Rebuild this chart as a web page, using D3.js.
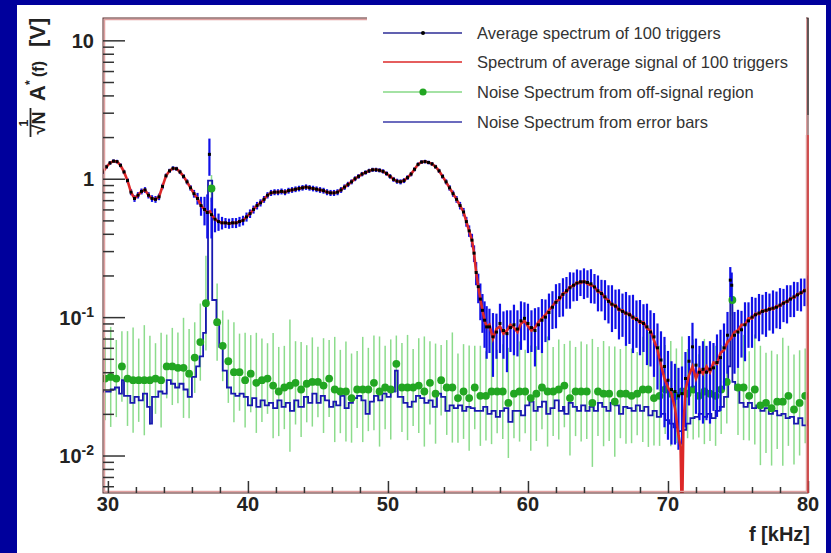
<!DOCTYPE html>
<html>
<head>
<meta charset="utf-8">
<script src="https://cdn.jsdelivr.net/npm/d3@7"></script>
<style>
  body { margin: 0; background: #00009c; }
  svg text { font-family: "Liberation Sans", Arial, Helvetica, sans-serif; }
</style>
</head>
<body>
<div id="chart"></div>
<script>
const W = 831;
const H = 553;
const frame = {left: 103, right: 808, top: 18, bottom: 493};

// x-axis: frequency in kHz
const xDomain = [29.65, 80];
const yDomain = [0.00536, 14.5];
const xMajor = [30, 40, 50, 60, 70, 80];
const yMajor = [0.01, 0.1, 1, 10];
const yMajorLabels = [['10', '-2'], ['10', '-1'], ['1', ''], ['10', '']];

const legendLabels = [
  'Average spectrum of 100 triggers',
  'Spectrum of average signal of 100 triggers',
  'Noise Spectrum from off-signal region',
  'Noise Spectrum from error bars'
];

// Average spectrum of 100 triggers: [f (kHz), A, error]
const avgSpectrum = [
  [29.65,1.12,.04],[29.9,1.22,.04],[30.15,1.30,.04],[30.4,1.34,.04],[30.65,1.33,.04],[30.9,1.25,.04],
  [31.15,1.12,.04],[31.4,0.97,.04],[31.65,0.80,.04],[31.9,0.72,.04],[32.15,0.76,.04],[32.4,0.81,.04],
  [32.65,0.83,.04],[32.9,0.76,.04],[33.15,0.72,.04],[33.4,0.71,.04],[33.65,0.74,.04],[33.9,0.88,.04],
  [34.15,1.05,.04],[34.4,1.14,.04],[34.65,1.19,.04],[34.9,1.18,.04],[35.15,1.12,.04],[35.4,1.04,.04],
  [35.65,0.95,.04],[35.9,0.86,.04],[36.15,0.78,.05],[36.4,0.72,.07],[36.65,0.64,.1],[36.9,0.6,.14],
  [37.1,0.57,.2],[37.25,1.5,.45],[37.4,0.55,.18],[37.65,0.51,.1],[37.9,0.49,.07],[38.15,0.48,.05],
  [38.4,0.48,.04],[38.65,0.475,.04],[38.9,0.48,.04],[39.15,0.48,.04],[39.4,0.49,.04],[39.65,0.5,.04],
  [39.9,0.53,.04],[40.15,0.56,.04],[40.4,0.6,.04],[40.65,0.64,.04],[40.9,0.67,.04],[41.15,0.71,.04],
  [41.4,0.76,.04],[41.65,0.79,.04],[41.9,0.8,.04],[42.15,0.8,.04],[42.4,0.81,.04],[42.65,0.8,.04],
  [42.9,0.82,.04],[43.15,0.83,.04],[43.4,0.84,.04],[43.65,0.85,.04],[43.9,0.86,.04],[44.15,0.87,.04],
  [44.4,0.86,.04],[44.65,0.85,.04],[44.9,0.84,.04],[45.15,0.83,.04],[45.4,0.82,.04],[45.65,0.8,.04],
  [45.9,0.79,.04],[46.15,0.79,.04],[46.4,0.8,.04],[46.65,0.83,.04],[46.9,0.87,.04],[47.15,0.91,.04],
  [47.4,0.95,.04],[47.65,1.0,.04],[47.9,1.04,.04],[48.15,1.08,.04],[48.4,1.11,.04],[48.65,1.14,.04],
  [48.9,1.16,.04],[49.15,1.16,.04],[49.4,1.15,.04],[49.65,1.13,.04],[49.9,1.09,.04],[50.15,1.04,.04],
  [50.4,0.99,.04],[50.65,0.96,.04],[50.9,0.95,.04],[51.15,0.97,.04],[51.4,1.02,.04],[51.65,1.08,.04],
  [51.9,1.17,.04],[52.15,1.27,.04],[52.4,1.32,.04],[52.65,1.33,.04],[52.9,1.31,.04],[53.15,1.28,.04],
  [53.4,1.22,.04],[53.65,1.14,.04],[53.9,1.04,.04],[54.15,0.95,.04],[54.4,0.86,.04],[54.65,0.78,.04],
  [54.9,0.71,.04],[55.15,0.64,.04],[55.4,0.575,.04],[55.6,0.49,.04],[55.8,0.42,.04],[56.0,0.36,.04],
  [56.15,0.29,.04],[56.3,0.21,.04],[56.45,0.166,.04],[56.6,0.135,.04],[56.75,0.112,.035],[56.9,0.095,.035],
  [57.05,0.085,.035],[57.25,0.085,.03],[57.5,0.072,.035],[57.75,0.078,.028],[58.0,0.09,.035],[58.25,0.08,.03],
  [58.5,0.076,.036],[58.75,0.084,.028],[59.0,0.088,.035],[59.25,0.082,.03],[59.5,0.094,.036],[59.75,0.098,.03],
  [60.0,0.09,.035],[60.25,0.084,.028],[60.5,0.08,.036],[60.75,0.088,.03],[61.0,0.095,.04],[61.25,0.1,.034],
  [61.5,0.108,.04],[61.75,0.118,.036],[62.0,0.128,.045],[62.25,0.138,.038],[62.5,0.146,.045],[62.75,0.155,.04],
  [63.0,0.163,.048],[63.25,0.17,.04],[63.5,0.176,.045],[63.75,0.18,.038],[64.0,0.18,.045],[64.25,0.178,.04],
  [64.5,0.174,.048],[64.75,0.165,.04],[65.0,0.155,.045],[65.25,0.148,.038],[65.5,0.14,.045],[65.75,0.13,.04],
  [66.0,0.124,.046],[66.25,0.12,.038],[66.5,0.114,.045],[66.75,0.11,.038],[67.0,0.107,.045],[67.25,0.104,.04],
  [67.5,0.1,.045],[67.75,0.096,.036],[68.0,0.093,.04],[68.25,0.09,.034],[68.5,0.085,.04],[68.75,0.078,.034],
  [69.0,0.072,.035],[69.25,0.06,.03],[69.5,0.049,.03],[69.75,0.044,.028],[70.0,0.035,.022],[70.25,0.03,.018],
  [70.5,0.029,.017],[70.75,0.027,.016],[71.0,0.028,.016],[71.25,0.036,.02],[71.5,0.048,.025],[71.75,0.061,.03],
  [72.0,0.045,.025],[72.25,0.04,.022],[72.5,0.042,.025],[72.75,0.04,.022],[73.0,0.042,.025],[73.25,0.043,.022],
  [73.5,0.047,.028],[73.75,0.051,.03],[74.0,0.06,.03],[74.25,0.074,.035],[74.45,0.185,.045],[74.55,0.17,.04],
  [74.75,0.074,.035],[75.0,0.078,.035],[75.25,0.081,.03],[75.5,0.088,.04],[75.75,0.094,.034],[76.0,0.1,.04],
  [76.25,0.104,.034],[76.5,0.107,.04],[76.75,0.11,.035],[77.0,0.112,.04],[77.25,0.114,.034],[77.5,0.116,.04],
  [77.75,0.118,.035],[78.0,0.122,.04],[78.25,0.126,.034],[78.5,0.13,.04],[78.75,0.135,.035],[79.0,0.14,.04],
  [79.25,0.145,.034],[79.5,0.15,.04],[79.75,0.155,.035],[80.0,0.16,.04]
];

// Spectrum of average signal of 100 triggers: [f, A]
const avgSignal = [
  [29.65,1.12],[29.9,1.22],[30.15,1.30],[30.4,1.34],[30.65,1.33],[30.9,1.25],[31.15,1.12],[31.4,0.97],
  [31.65,0.80],[31.9,0.72],[32.15,0.76],[32.4,0.81],[32.65,0.83],[32.9,0.76],[33.15,0.72],[33.4,0.71],
  [33.65,0.74],[33.9,0.88],[34.15,1.05],[34.4,1.14],[34.65,1.19],[34.9,1.18],[35.15,1.12],[35.4,1.04],
  [35.65,0.95],[35.9,0.86],[36.15,0.78],[36.4,0.72],[36.65,0.64],[36.9,0.6],[37.1,0.57],[37.3,0.58],
  [37.4,0.55],[37.65,0.51],[37.9,0.49],[38.15,0.48],[38.4,0.48],[38.65,0.475],[38.9,0.48],[39.15,0.48],
  [39.4,0.49],[39.65,0.5],[39.9,0.53],[40.15,0.56],[40.4,0.6],[40.65,0.64],[40.9,0.67],[41.15,0.71],
  [41.4,0.76],[41.65,0.79],[41.9,0.8],[42.15,0.8],[42.4,0.81],[42.65,0.8],[42.9,0.82],[43.15,0.83],
  [43.4,0.84],[43.65,0.85],[43.9,0.86],[44.15,0.87],[44.4,0.86],[44.65,0.85],[44.9,0.84],[45.15,0.83],
  [45.4,0.82],[45.65,0.8],[45.9,0.79],[46.15,0.79],[46.4,0.8],[46.65,0.83],[46.9,0.87],[47.15,0.91],
  [47.4,0.95],[47.65,1.0],[47.9,1.04],[48.15,1.08],[48.4,1.11],[48.65,1.14],[48.9,1.16],[49.15,1.16],
  [49.4,1.15],[49.65,1.13],[49.9,1.09],[50.15,1.04],[50.4,0.99],[50.65,0.96],[50.9,0.95],[51.15,0.97],
  [51.4,1.02],[51.65,1.08],[51.9,1.17],[52.15,1.27],[52.4,1.32],[52.65,1.33],[52.9,1.31],[53.15,1.28],
  [53.4,1.22],[53.65,1.14],[53.9,1.04],[54.15,0.95],[54.4,0.86],[54.65,0.78],[54.9,0.71],[55.15,0.64],
  [55.4,0.575],[55.6,0.49],[55.8,0.42],[56.0,0.36],[56.15,0.29],[56.3,0.21],[56.45,0.166],[56.6,0.135],
  [56.75,0.112],[56.9,0.095],[57.05,0.085],[57.25,0.088],[57.5,0.07],[57.75,0.082],[58.0,0.086],[58.25,0.076],
  [58.5,0.08],[58.75,0.088],[59.0,0.084],[59.25,0.078],[59.5,0.09],[59.75,0.094],[60.0,0.086],[60.25,0.08],
  [60.5,0.084],[60.75,0.092],[61.0,0.098],[61.25,0.104],[61.5,0.112],[61.75,0.12],[62.0,0.13],[62.25,0.134],
  [62.5,0.148],[62.75,0.152],[63.0,0.166],[63.25,0.168],[63.5,0.178],[63.75,0.176],[64.0,0.182],[64.25,0.174],
  [64.5,0.17],[64.75,0.166],[65.0,0.152],[65.25,0.15],[65.5,0.138],[65.75,0.132],[66.0,0.122],[66.25,0.122],
  [66.5,0.112],[66.75,0.112],[67.0,0.105],[67.25,0.106],[67.5,0.098],[67.75,0.098],[68.0,0.091],[68.25,0.092],
  [68.5,0.083],[68.75,0.08],[69.0,0.068],[69.25,0.058],[69.5,0.045],[69.75,0.036],[70.0,0.031],[70.25,0.028],
  [70.5,0.022],[70.75,0.014],[70.9,0.0115],[71.0,0.003],[71.1,0.016],[71.25,0.03],[71.5,0.038],[71.75,0.044],
  [72.0,0.036],[72.25,0.042],[72.5,0.039],[72.75,0.044],[73.0,0.04],[73.25,0.047],[73.5,0.046],[73.75,0.055],
  [74.0,0.058],[74.25,0.066],[74.5,0.07],[74.75,0.078],[75.0,0.08],[75.25,0.088],[75.5,0.088],[75.75,0.098],
  [76.0,0.098],[76.25,0.106],[76.5,0.105],[76.75,0.112],[77.0,0.11],[77.25,0.116],[77.5,0.114],[77.75,0.12],
  [78.0,0.12],[78.25,0.128],[78.5,0.128],[78.75,0.137],[79.0,0.138],[79.25,0.147],[79.5,0.148],[79.75,0.157],
  [80.0,0.158]
];

// Noise spectrum from off-signal region: [f, A, spread factor of the error bar]
const offSignalNoise = [
  [29.8,0.036,2.0],[30.2,0.037,2.3],[30.6,0.036,1.9],[31.0,0.044,1.8],[31.4,0.036,2.2],[31.8,0.035,2.4],
  [32.2,0.035,2.0],[32.6,0.035,2.5],[33.0,0.035,2.1],[33.4,0.036,1.8],[33.8,0.035,2.2],[34.2,0.044,1.7],
  [34.6,0.044,1.9],[35.0,0.043,1.8],[35.4,0.043,2.3],[35.8,0.039,2.1],[36.2,0.051,1.8],[36.6,0.066,1.9],
  [37.0,0.126,2.2],[37.4,0.85,1.25],[37.8,0.092,1.9],[38.2,0.062,1.8],[38.6,0.048,2.0],[39.0,0.040,2.3],
  [39.4,0.040,1.9],[39.8,0.035,2.2],[40.2,0.039,1.9],[40.6,0.0335,2.3],[41.0,0.035,2.0],[41.4,0.036,1.8],
  [41.8,0.032,2.4],[42.2,0.029,2.1],[42.6,0.031,2.0],[43.0,0.032,3.0],[43.4,0.0335,2.0],[43.8,0.030,2.2],
  [44.2,0.033,1.9],[44.6,0.034,2.1],[45.0,0.034,1.8],[45.4,0.032,2.2],[45.8,0.036,1.9],[46.2,0.030,2.4],
  [46.6,0.029,2.0],[47.0,0.029,2.3],[47.4,0.026,2.1],[47.8,0.030,1.9],[48.2,0.030,2.4],[48.6,0.030,2.0],
  [49.0,0.0335,2.2],[49.4,0.029,2.5],[49.8,0.031,2.0],[50.2,0.030,2.3],[50.6,0.046,1.6],[51.0,0.031,2.1],
  [51.4,0.031,2.4],[51.8,0.031,1.9],[52.2,0.032,2.2],[52.6,0.029,2.5],[53.0,0.0335,2.0],[53.4,0.028,2.3],
  [53.8,0.035,1.8],[54.2,0.031,2.2],[54.6,0.031,2.5],[55.0,0.026,2.1],[55.4,0.029,2.2],[55.8,0.026,2.4],
  [56.2,0.031,2.0],[56.6,0.027,2.3],[57.0,0.027,2.1],[57.4,0.029,2.4],[57.8,0.029,2.0],[58.2,0.029,2.2],
  [58.6,0.024,2.5],[59.0,0.028,2.1],[59.4,0.029,2.3],[59.8,0.029,2.0],[60.2,0.026,2.4],[60.6,0.028,2.2],
  [61.0,0.031,2.0],[61.4,0.029,2.5],[61.8,0.029,2.1],[62.2,0.030,2.3],[62.6,0.032,2.0],[63.0,0.026,2.6],
  [63.4,0.029,2.1],[63.8,0.029,2.3],[64.2,0.029,2.2],[64.6,0.024,2.9],[65.0,0.029,2.1],[65.4,0.028,2.4],
  [65.8,0.028,2.2],[66.2,0.0245,2.5],[66.6,0.028,2.1],[67.0,0.028,2.3],[67.4,0.027,2.2],[67.8,0.028,2.0],
  [68.2,0.030,2.4],[68.6,0.030,2.6],[69.0,0.026,2.2],[69.4,0.027,2.3],[69.8,0.030,2.1],[70.2,0.028,2.4],
  [70.6,0.027,2.2],[71.0,0.029,2.5],[71.4,0.028,2.1],[71.8,0.030,2.3],[72.2,0.027,2.0],[72.6,0.029,2.4],
  [73.0,0.028,2.2],[73.4,0.027,2.3],[73.8,0.030,2.1],[74.2,0.034,2.0],[74.6,0.133,1.3],[75.0,0.031,2.2],
  [75.4,0.031,2.4],[75.8,0.027,2.1],[76.2,0.030,2.5],[76.6,0.023,2.7],[77.0,0.024,2.3],[77.4,0.022,2.6],
  [77.8,0.0245,2.2],[78.2,0.0245,2.9],[78.6,0.027,2.3],[79.0,0.0215,2.5],[79.4,0.024,2.4],[79.8,0.027,2.2]
];

// Noise spectrum from error bars: [f, A], drawn as steps
const errorBarNoise = [
  [29.65,0.029],[30.0,0.029],[30.2,0.030],[30.5,0.031],[30.8,0.028],[31.0,0.035],[31.15,0.027],[31.3,0.027],
  [31.6,0.024],[31.9,0.0265],[32.2,0.025],[32.5,0.028],[32.8,0.0225],[33.0,0.017],[33.15,0.0265],[33.3,0.0265],
  [33.6,0.029],[33.9,0.028],[34.2,0.035],[34.5,0.033],[34.8,0.031],[35.1,0.033],[35.4,0.030],[35.7,0.0265],
  [36.0,0.037],[36.3,0.044],[36.55,0.052],[36.8,0.077],[37.0,0.13],[37.15,0.97],[37.45,0.133],[37.75,0.09],
  [37.95,0.061],[38.2,0.041],[38.5,0.031],[38.8,0.028],[39.1,0.027],[39.4,0.028],[39.7,0.0265],[40.0,0.023],
  [40.3,0.026],[40.6,0.0225],[40.9,0.025],[41.2,0.023],[41.5,0.024],[41.8,0.022],[42.1,0.025],[42.4,0.0225],
  [42.7,0.024],[43.0,0.021],[43.3,0.025],[43.6,0.0225],[44.0,0.0265],[44.3,0.024],[44.6,0.028],[44.9,0.024],
  [45.2,0.027],[45.5,0.025],[45.8,0.0225],[46.1,0.0245],[46.3,0.023],[46.6,0.027],[46.9,0.022],[47.2,0.024],
  [47.5,0.026],[47.8,0.027],[48.1,0.025],[48.4,0.020],[48.7,0.0245],[49.0,0.027],[49.3,0.025],[49.6,0.028],
  [49.9,0.0265],[50.2,0.029],[50.5,0.041],[50.7,0.0265],[51.1,0.024],[51.4,0.0225],[51.7,0.0245],[52.0,0.027],
  [52.3,0.026],[52.6,0.024],[52.9,0.025],[53.2,0.0225],[53.5,0.028],[53.8,0.0265],[54.1,0.021],[54.4,0.023],
  [54.7,0.022],[55.0,0.023],[55.3,0.021],[55.6,0.0225],[55.9,0.022],[56.2,0.021],[56.5,0.021],[56.8,0.0225],
  [57.1,0.020],[57.4,0.021],[57.7,0.019],[58.0,0.021],[58.3,0.022],[58.6,0.0175],[58.9,0.021],[59.2,0.021],
  [59.5,0.0195],[59.8,0.023],[60.1,0.0245],[60.4,0.021],[60.7,0.0225],[61.0,0.0245],[61.3,0.020],[61.6,0.022],
  [61.9,0.025],[62.2,0.021],[62.5,0.0225],[62.6,0.020],[62.9,0.024],[63.2,0.0225],[63.5,0.021],[63.8,0.023],
  [64.1,0.021],[64.4,0.0225],[64.7,0.021],[65.0,0.024],[65.3,0.0225],[65.6,0.021],[65.9,0.024],[66.2,0.023],
  [66.5,0.020],[66.8,0.0225],[67.1,0.022],[67.4,0.021],[67.7,0.023],[68.0,0.021],[68.3,0.0225],[68.6,0.0195],
  [68.9,0.021],[69.2,0.019],[69.5,0.020],[69.8,0.018],[70.1,0.017],[70.4,0.016],[70.7,0.015],[71.0,0.0153],
  [71.3,0.017],[71.6,0.0186],[71.9,0.019],[72.2,0.020],[72.5,0.019],[72.8,0.020],[73.1,0.0186],[73.4,0.021],
  [73.7,0.0225],[74.0,0.0265],[74.3,0.044],[74.45,0.14],[74.6,0.034],[74.8,0.030],[75.1,0.024],[75.4,0.0225],
  [75.7,0.024],[76.0,0.022],[76.3,0.023],[76.6,0.021],[76.9,0.022],[77.2,0.020],[77.5,0.021],[77.8,0.0195],
  [78.1,0.020],[78.4,0.0186],[78.7,0.019],[79.0,0.017],[79.3,0.0186],[79.6,0.0165],[80.0,0.018]
];

const colors = {
  avgErr: '#1010e8',
  avgMarker: '#000000',
  signal: '#dc2828',
  green: '#22a622',
  greenErr: '#8cdc8c',
  noise: '#1818b0',
  frameDark: '#5a2828',
  framePink: '#e0a0a0'
};

const svg = d3.select('#chart')
  .append('svg')
  .attr('width', W)
  .attr('height', H);

// blue slide background and white pad
svg.append('rect').attr('width', W).attr('height', H).attr('fill', '#00009c');
svg.append('rect')
  .attr('x', 17).attr('y', 5)
  .attr('width', 809).attr('height', H - 5)
  .attr('fill', '#ffffff');

const x = d3.scaleLinear().domain(xDomain).range([frame.left, frame.right]);
const y = d3.scaleLog().domain(yDomain).range([frame.bottom, frame.top]);

svg.append('clipPath').attr('id', 'plot-clip')
  .append('rect')
  .attr('x', frame.left).attr('y', frame.top)
  .attr('width', frame.right - frame.left)
  .attr('height', frame.bottom - frame.top);

const plot = svg.append('g').attr('clip-path', 'url(#plot-clip)');

// green error bars (off-signal noise)
plot.selectAll('.green-err')
  .data(offSignalNoise)
  .enter()
  .append('line')
  .attr('class', 'green-err')
  .attr('x1', d => x(d[0])).attr('x2', d => x(d[0]))
  .attr('y1', d => y(d[1] / d[2]))
  .attr('y2', d => y(d[1] * d[2]))
  .attr('stroke', colors.greenErr)
  .attr('stroke-width', 1.5);

// noise spectrum from error bars, step line
const stepLine = d3.line()
  .x(d => x(d[0]))
  .y(d => y(d[1]))
  .curve(d3.curveStepAfter);

plot.append('path')
  .datum(errorBarNoise)
  .attr('d', stepLine)
  .attr('fill', 'none')
  .attr('stroke', colors.noise)
  .attr('stroke-width', 1.8);

// green markers
plot.selectAll('.green-pt')
  .data(offSignalNoise)
  .enter()
  .append('circle')
  .attr('class', 'green-pt')
  .attr('cx', d => x(d[0]))
  .attr('cy', d => y(d[1]))
  .attr('r', 3.9)
  .attr('fill', colors.green);

// error bars of the average spectrum
plot.selectAll('.avg-err')
  .data(avgSpectrum)
  .enter()
  .append('line')
  .attr('class', 'avg-err')
  .attr('x1', d => x(d[0])).attr('x2', d => x(d[0]))
  .attr('y1', d => y(Math.max(d[1] - d[2], 1e-4)))
  .attr('y2', d => y(d[1] + d[2]))
  .attr('stroke', colors.avgErr)
  .attr('stroke-width', 2.2);

// spectrum of average signal
const line = d3.line()
  .x(d => x(d[0]))
  .y(d => y(d[1]));

plot.append('path')
  .datum(avgSignal)
  .attr('d', line)
  .attr('fill', 'none')
  .attr('stroke', colors.signal)
  .attr('stroke-width', 2.6);

// black markers of the average spectrum
plot.selectAll('.avg-pt')
  .data(avgSpectrum)
  .enter()
  .append('rect')
  .attr('class', 'avg-pt')
  .attr('x', d => x(d[0]) - 1.5)
  .attr('y', d => y(d[1]) - 1.5)
  .attr('width', 3)
  .attr('height', 3)
  .attr('fill', colors.avgMarker);

// frame
svg.append('rect')
  .attr('x', frame.left + 1.5).attr('y', frame.top + 1.5)
  .attr('width', frame.right - frame.left - 3)
  .attr('height', frame.bottom - frame.top - 3)
  .attr('fill', 'none')
  .attr('stroke', colors.framePink)
  .attr('stroke-width', 1.5);
svg.append('rect')
  .attr('x', frame.left).attr('y', frame.top)
  .attr('width', frame.right - frame.left)
  .attr('height', frame.bottom - frame.top)
  .attr('fill', 'none')
  .attr('stroke', colors.frameDark)
  .attr('stroke-width', 1);

// y ticks, pointing into the frame
const yMinor = y.ticks().filter(t => !yMajor.some(m => Math.abs(m - t) / m < 1e-6));
svg.append('g')
  .attr('transform', `translate(${frame.left},0)`)
  .call(d3.axisRight(y).tickValues(yMinor).tickSize(11).tickFormat(''))
  .call(g => g.select('.domain').remove())
  .selectAll('line').attr('stroke', '#333').attr('stroke-width', 1.5);
svg.append('g')
  .attr('transform', `translate(${frame.left},0)`)
  .call(d3.axisRight(y).tickValues(yMajor).tickSize(22).tickFormat(''))
  .call(g => g.select('.domain').remove())
  .selectAll('line').attr('stroke', '#333').attr('stroke-width', 1.5);

// x ticks, pointing up
const xMinor = x.ticks(25).filter(t => xMajor.indexOf(t) < 0);
svg.append('g')
  .attr('transform', `translate(0,${frame.bottom})`)
  .call(d3.axisTop(x).tickValues(xMinor).tickSize(6).tickFormat(''))
  .call(g => g.select('.domain').remove())
  .selectAll('line').attr('stroke', '#333').attr('stroke-width', 1.5);
svg.append('g')
  .attr('transform', `translate(0,${frame.bottom})`)
  .call(d3.axisTop(x).tickValues(xMajor).tickSize(12).tickFormat(''))
  .call(g => g.select('.domain').remove())
  .selectAll('line').attr('stroke', '#333').attr('stroke-width', 1.5);

// tick labels
svg.selectAll('.xlabel')
  .data(xMajor)
  .enter()
  .append('text')
  .attr('class', 'xlabel')
  .attr('x', d => x(d))
  .attr('y', 511)
  .attr('text-anchor', 'middle')
  .attr('font-size', 20)
  .attr('font-weight', 'bold')
  .attr('fill', '#222')
  .text(d => d);

const ylab = svg.selectAll('.ylabel')
  .data(yMajor)
  .enter()
  .append('text')
  .attr('class', 'ylabel')
  .attr('x', 94)
  .attr('y', d => y(d) + 7.5)
  .attr('text-anchor', 'end')
  .attr('font-size', 20)
  .attr('font-weight', 'bold')
  .attr('fill', '#222');
ylab.append('tspan').text((d, i) => yMajorLabels[i][0]);
ylab.append('tspan')
  .attr('dy', -8)
  .attr('font-size', 14)
  .text((d, i) => yMajorLabels[i][1]);

// axis titles
svg.append('text')
  .attr('x', 810).attr('y', 541)
  .attr('text-anchor', 'end')
  .attr('font-size', 20)
  .attr('font-weight', 'bold')
  .attr('fill', '#222')
  .text('f [kHz]');

const ytitle = svg.append('g')
  .attr('transform', 'translate(45,138) rotate(-90)')
  .attr('fill', '#222')
  .attr('font-weight', 'bold');
ytitle.append('text').attr('x', 15).attr('y', -17).attr('text-anchor', 'middle')
  .attr('font-size', 13).text('1');
ytitle.append('line').attr('x1', 1).attr('x2', 30).attr('y1', -14.5).attr('y2', -14.5)
  .attr('stroke', '#222').attr('stroke-width', 1.8);
ytitle.append('text').attr('x', 15).attr('y', 0).attr('text-anchor', 'middle')
  .attr('font-size', 18).text('\u221AN');
ytitle.append('text').attr('x', 37).attr('y', 0).attr('font-size', 22).text('A');
ytitle.append('text').attr('x', 53).attr('y', -11).attr('font-size', 12).text('*');
ytitle.append('text').attr('x', 61).attr('y', -1).attr('font-size', 16).text('(f)');
ytitle.append('text').attr('x', 91).attr('y', 0).attr('font-size', 22).text('[V]');

// legend
const legend = svg.append('g');
legend.append('rect')
  .attr('x', 367).attr('y', 10)
  .attr('width', 439).attr('height', 125)
  .attr('fill', '#ffffff');

const legendRows = [33, 62, 92, 122];
const legendStyles = ['#2c2c96', colors.signal, '#86d886', '#3a3aa8'];

legend.selectAll('.leg-line')
  .data(legendLabels)
  .enter()
  .append('line')
  .attr('x1', 383).attr('x2', 462)
  .attr('y1', (d, i) => legendRows[i]).attr('y2', (d, i) => legendRows[i])
  .attr('stroke', (d, i) => legendStyles[i])
  .attr('stroke-width', 1.5);

legend.append('circle').attr('cx', 423).attr('cy', legendRows[0]).attr('r', 2).attr('fill', '#000');
legend.append('circle').attr('cx', 423).attr('cy', legendRows[2]).attr('r', 3.6).attr('fill', colors.green);

legend.selectAll('.leg-text')
  .data(legendLabels)
  .enter()
  .append('text')
  .attr('x', 477)
  .attr('y', (d, i) => legendRows[i] + 6)
  .attr('font-size', 16.5)
  .attr('fill', '#333')
  .text(d => d);

// right frame edge, dark above and red below the legend
svg.append('line')
  .attr('x1', frame.right).attr('x2', frame.right)
  .attr('y1', frame.top).attr('y2', 115)
  .attr('stroke', '#333').attr('stroke-width', 1.2);
svg.append('line')
  .attr('x1', frame.right).attr('x2', frame.right)
  .attr('y1', 135).attr('y2', frame.bottom)
  .attr('stroke', '#d84040').attr('stroke-width', 1.6);
</script>
</body>
</html>
